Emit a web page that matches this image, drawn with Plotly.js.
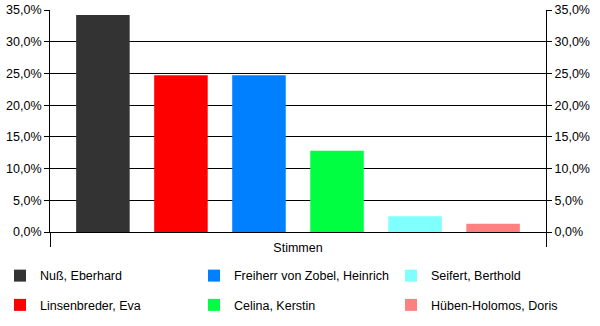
<!DOCTYPE html>
<html>
<head>
<meta charset="utf-8">
<script src="https://cdn.plot.ly/plotly-3.0.1.min.js"></script>
<style>html,body{margin:0;padding:0;background:#fff}#chart{width:600px;height:326px}</style>
</head>
<body>
<div id="chart"></div>
<script>
const category = ["Stimmen"];
const candidates = ["Nuß, Eberhard", "Linsenbreder, Eva", "Freiherr von Zobel, Heinrich", "Celina, Kerstin", "Seifert, Berthold", "Hüben-Holomos, Doris"];
const shares = [34.2, 24.7, 24.7, 12.8, 2.5, 1.3];
const colors = ["#333333", "#ff0000", "#0080ff", "#00ff40", "#80ffff", "#ff8080"];
const legendIds = ["legend", "legend", "legend2", "legend2", "legend3", "legend3"];
const yTicks = [0, 5, 10, 15, 20, 25, 30, 35];
const yTickText = yTicks.map(v => v.toFixed(1).replace(".", ",") + "%");

const font = {family: "Liberation Sans, Arial, sans-serif", size: 12.5, color: "#000"};

const traces = candidates.map((name, i) => ({
  type: "bar",
  name: name,
  x: category,
  y: [shares[i]],
  marker: {color: colors[i], line: {width: 0}},
  legend: legendIds[i],
  legendgroup: "g" + i,
  hoverinfo: "name+y"
}));

// empty helper trace so the secondary (right) percentage axis is drawn
traces.push({
  type: "scatter",
  mode: "markers",
  x: [],
  y: [],
  yaxis: "y2",
  showlegend: false,
  hoverinfo: "skip"
});

const yAxisCommon = {
  range: [0, 35],
  autorange: false,
  tickmode: "array",
  tickvals: yTicks,
  ticktext: yTickText,
  ticks: "outside",
  ticklen: 5,
  tickcolor: "#000",
  showline: true,
  linecolor: "#000",
  linewidth: 1,
  zeroline: false,
  tickfont: font,
  automargin: false,
  fixedrange: true
};

const legendCommon = {
  orientation: "v",
  font: font,
  bgcolor: "rgba(0,0,0,0)",
  tracegroupgap: 10,
  xref: "container",
  yref: "container",
  xanchor: "left",
  yanchor: "top",
  y: 0.1994,
  itemclick: false
};

const layout = {
  width: 600,
  height: 326,
  margin: {l: 50, r: 54, t: 10, b: 94, autoexpand: false},
  paper_bgcolor: "#fff",
  plot_bgcolor: "#fff",
  font: font,
  separators: ",.",
  barmode: "group",
  bargap: 0.056,
  bargroupgap: 0.314,
  xaxis: {
    type: "category",
    showline: true,
    linecolor: "#000",
    linewidth: 1,
    ticks: "outside",
    tickson: "boundaries",
    ticklen: 14,
    tickcolor: "#000",
    ticklabelstandoff: 4,
    showgrid: false,
    tickfont: font,
    automargin: false,
    fixedrange: true
  },
  yaxis: Object.assign({}, yAxisCommon, {
    side: "left",
    showgrid: true,
    gridcolor: "#000",
    gridwidth: 1
  }),
  yaxis2: Object.assign({}, yAxisCommon, {
    side: "right",
    overlaying: "y",
    anchor: "x",
    showgrid: false
  }),
  showlegend: true,
  legend: Object.assign({}, legendCommon, {x: 0}),
  legend2: Object.assign({}, legendCommon, {x: 0.3233}),
  legend3: Object.assign({}, legendCommon, {x: 0.6517})
};

Plotly.newPlot("chart", traces, layout, {displayModeBar: false, staticPlot: true});
</script>
</body>
</html>
